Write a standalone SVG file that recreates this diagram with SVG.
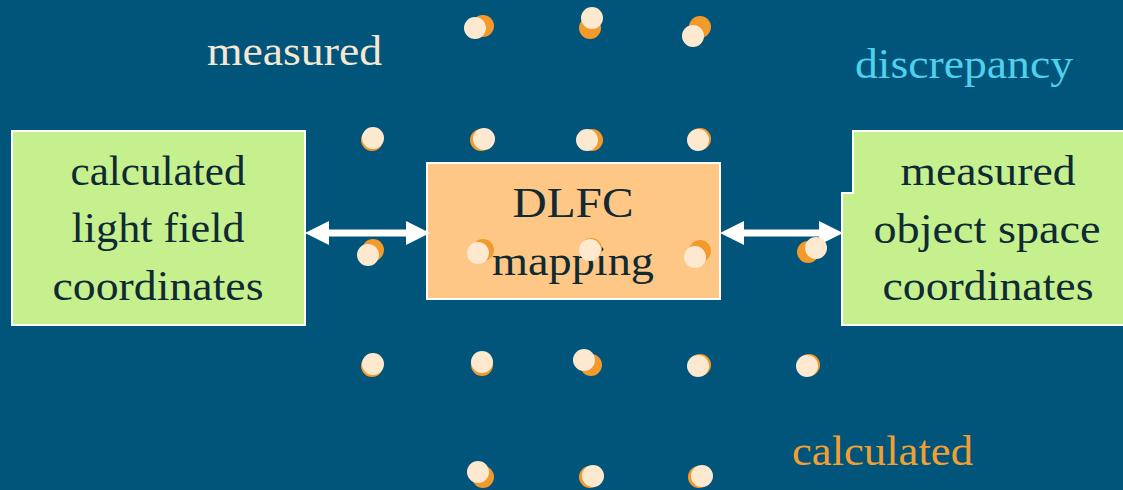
<svg xmlns="http://www.w3.org/2000/svg" width="1123" height="490" viewBox="0 0 1123 490">
<defs>
<style>
.bg{fill:#01547A}
.box{stroke:#FFFFFF;stroke-width:2}
.green{fill:#C6F08E}
.orange{fill:#FFC786}
.t{font-family:"Liberation Serif","Times New Roman",serif;font-size:43px;fill:#0F2A33;text-anchor:middle}
.lbl{font-family:"Liberation Serif","Times New Roman",serif;font-size:43px}
.c{fill:#FDE8D0}
.o{fill:#F39A2C}
.conn{stroke:#FFFFFF;stroke-width:7;fill:none}
.head{fill:#FFFFFF}
</style>
</defs>
<rect class="bg" x="0" y="0" width="1123" height="490"/>
<g id="node-calculated-lf">
<rect class="box green" x="12" y="131" width="293" height="194"/>
<text class="t" x="158" y="185" textLength="175" lengthAdjust="spacingAndGlyphs">calculated</text>
<text class="t" x="158" y="242" textLength="173" lengthAdjust="spacingAndGlyphs">light field</text>
<text class="t" x="158" y="300" textLength="211" lengthAdjust="spacingAndGlyphs">coordinates</text>
</g>
<g id="node-measured-os">
<path class="box green" d="M853,131 H1126 V325 H842 V193 H853 Z"/>
<text class="t" x="988" y="185" textLength="175" lengthAdjust="spacingAndGlyphs">measured</text>
<text class="t" x="987" y="243" textLength="227" lengthAdjust="spacingAndGlyphs">object space</text>
<text class="t" x="988" y="300" textLength="211" lengthAdjust="spacingAndGlyphs">coordinates</text>
</g>
<g id="node-dlfc">
<rect class="box orange" x="427" y="163" width="293" height="136"/>
<text class="t" x="573" y="217" textLength="121" lengthAdjust="spacingAndGlyphs">DLFC</text>
<text class="t" x="573" y="275" textLength="162" lengthAdjust="spacingAndGlyphs">mapping</text>
</g>
<g id="connectors">
<line class="conn" x1="322" y1="233" x2="410" y2="233"/>
<polygon class="head" points="305,233 329,221 329,245"/>
<polygon class="head" points="430,233 406,221 406,245"/>
<line class="conn" x1="737" y1="233" x2="825" y2="233"/>
<polygon class="head" points="720,233 744,221 744,245"/>
<polygon class="head" points="843,233 819,221 819,245"/>
</g>
<g id="labels">
<text class="lbl" x="207" y="65" fill="#F6E7D2" textLength="175" lengthAdjust="spacingAndGlyphs">measured</text>
<text class="lbl" x="855" y="78" fill="#4ED1EA" textLength="218" lengthAdjust="spacingAndGlyphs">discrepancy</text>
<text class="lbl" x="792" y="465" fill="#F0A032" textLength="181" lengthAdjust="spacingAndGlyphs">calculated</text>
</g>
<g id="points">
<circle class="o" cx="483" cy="26" r="11"/><circle class="c" cx="475" cy="28" r="11"/>
<circle class="o" cx="590" cy="28" r="11"/><circle class="c" cx="592" cy="18" r="11"/>
<circle class="o" cx="700" cy="27" r="11"/><circle class="c" cx="693" cy="36" r="11"/>
<circle class="o" cx="372" cy="140" r="11"/><circle class="c" cx="373" cy="138" r="11"/>
<circle class="o" cx="481" cy="140" r="11"/><circle class="c" cx="484" cy="139" r="11"/>
<circle class="o" cx="592" cy="140" r="11"/><circle class="c" cx="587" cy="140" r="11"/>
<circle class="o" cx="700" cy="139" r="11"/><circle class="c" cx="698" cy="140" r="11"/>
<circle class="o" cx="373" cy="250" r="11"/><circle class="c" cx="368" cy="255" r="11"/>
<circle class="o" cx="483" cy="250" r="11"/><circle class="c" cx="478" cy="253" r="11"/>
<circle class="o" cx="591" cy="249" r="11"/><circle class="c" cx="590" cy="250" r="11"/>
<circle class="o" cx="700" cy="251" r="11"/><circle class="c" cx="695" cy="257" r="11"/>
<circle class="o" cx="808" cy="252" r="11"/><circle class="c" cx="816" cy="248" r="11"/>
<circle class="o" cx="372" cy="366" r="11"/><circle class="c" cx="373" cy="364" r="11"/>
<circle class="o" cx="482" cy="365" r="11"/><circle class="c" cx="482" cy="362" r="11"/>
<circle class="o" cx="591" cy="365" r="11"/><circle class="c" cx="584" cy="360" r="11"/>
<circle class="o" cx="700" cy="365" r="11"/><circle class="c" cx="698" cy="366" r="11"/>
<circle class="o" cx="809" cy="365" r="11"/><circle class="c" cx="807" cy="366" r="11"/>
<circle class="o" cx="483" cy="477" r="11"/><circle class="c" cx="478" cy="472" r="11"/>
<circle class="o" cx="590" cy="477" r="11"/><circle class="c" cx="593" cy="476" r="11"/>
<circle class="o" cx="699" cy="477" r="11"/><circle class="c" cx="702" cy="476" r="11"/>
</g>
</svg>
